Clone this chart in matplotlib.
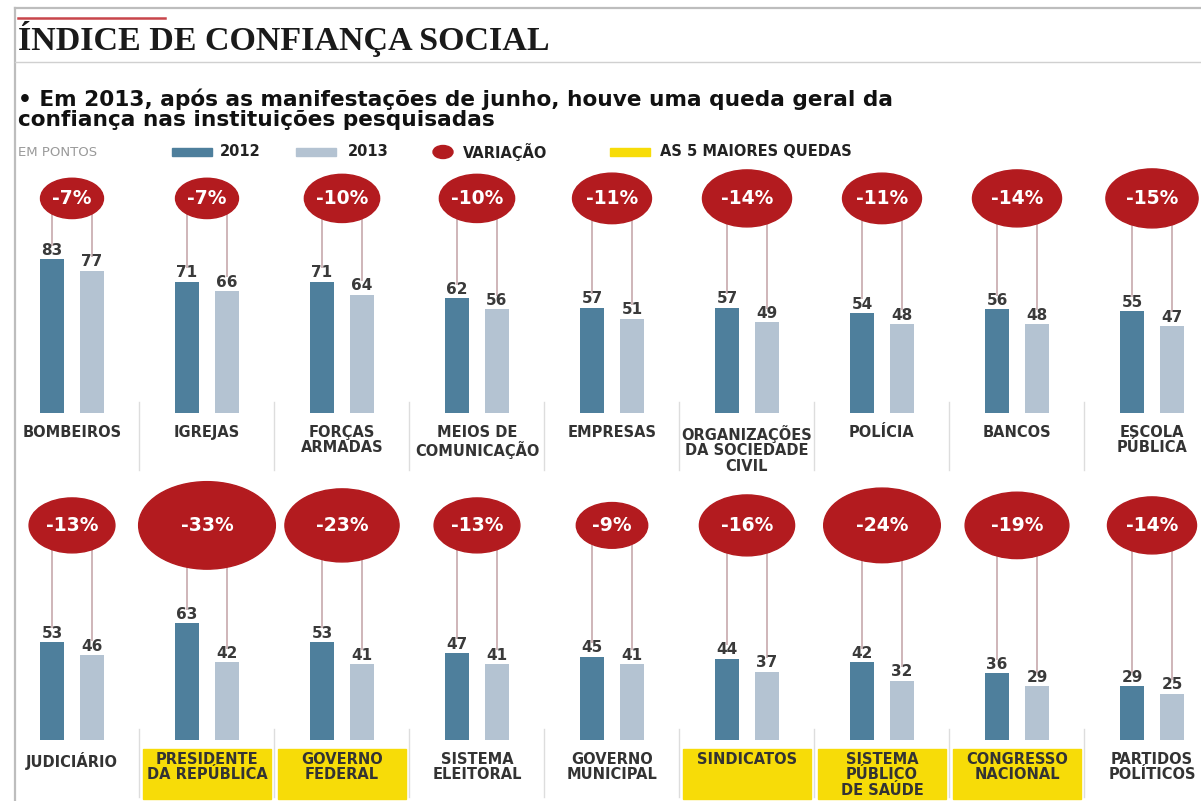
import numpy as np
import matplotlib.pyplot as plt
from matplotlib.patches import Ellipse, Rectangle

# Índice de confiança social - 2012 x 2013 (em pontos)

# linha de cima
cat_top = ['BOMBEIROS', 'IGREJAS', 'FORÇAS\nARMADAS', 'MEIOS DE\nCOMUNICAÇÃO', 'EMPRESAS',
           'ORGANIZAÇÕES\nDA SOCIEDADE\nCIVIL', 'POLÍCIA', 'BANCOS', 'ESCOLA\nPÚBLICA']
top_2012 = [83, 71, 71, 62, 57, 57, 54, 56, 55]
top_2013 = [77, 66, 64, 56, 51, 49, 48, 48, 47]
top_var = [-7, -7, -10, -10, -11, -14, -11, -14, -15]

# linha de baixo
cat_bot = ['JUDICIÁRIO', 'PRESIDENTE\nDA REPÚBLICA', 'GOVERNO\nFEDERAL', 'SISTEMA\nELEITORAL',
           'GOVERNO\nMUNICIPAL', 'SINDICATOS', 'SISTEMA\nPÚBLICO\nDE SAÚDE', 'CONGRESSO\nNACIONAL',
           'PARTIDOS\nPOLÍTICOS']
bot_2012 = [53, 63, 53, 47, 45, 44, 42, 36, 29]
bot_2013 = [46, 42, 41, 41, 41, 37, 32, 29, 25]
bot_var = [-13, -33, -23, -13, -9, -16, -24, -19, -14]

# cores
C12 = '#4e7f9c'
C13 = '#b4c3d2'
RED = '#b31b1f'
YEL = '#f7dc08'
LINE = '#cfb5b9'
TXT = '#333333'

W, H = 1201, 801
fig = plt.figure(figsize=(W / 100, H / 100), dpi=100)

# fundo em pixels para cabeçalho e legenda
bg = fig.add_axes([0, 0, 1, 1])
bg.set_xlim(0, W)
bg.set_ylim(H, 0)
bg.axis('off')

bg.plot([15, W], [8, 8], color='#bdbdbd', lw=1.6)
bg.plot([15, 15], [8, H], color='#bdbdbd', lw=1.6)
bg.plot([18, 165], [18, 18], color='#c8454b', lw=1.8)
bg.plot([15, W], [62, 62], color='#d0d0d0', lw=1.0)

bg.text(18, 50, 'ÍNDICE DE CONFIANÇA SOCIAL', family='Liberation Serif', fontsize=24.5,
        weight='bold', color='#1a1a1a', va='baseline', ha='left')
bg.text(18, 99, '• Em 2013, após as manifestações de junho, houve uma queda geral da',
        fontsize=15.6, weight='bold', color='#111111', va='center')
bg.text(18, 120, 'confiança nas instituições pesquisadas',
        fontsize=15.6, weight='bold', color='#111111', va='center')

# legenda
ly = 152
bg.text(18, ly, 'EM PONTOS', fontsize=9.5, color='#9a9a9a', va='center')
bg.add_patch(Rectangle((172, ly - 4), 40, 8, color=C12))
bg.text(220, ly, '2012', fontsize=10.5, weight='bold', color='#222222', va='center')
bg.add_patch(Rectangle((296, ly - 4), 40, 8, color=C13))
bg.text(348, ly, '2013', fontsize=10.5, weight='bold', color='#222222', va='center')
bg.add_patch(Ellipse((443, ly), 20, 13, color=RED))
bg.text(463, ly, 'VARIAÇÃO', fontsize=10.5, weight='bold', color='#222222', va='center')
bg.add_patch(Rectangle((610, ly - 4), 40, 8, color=YEL))
bg.text(660, ly, 'AS 5 MAIORES QUEDAS', fontsize=10.5, weight='bold', color='#222222', va='center')

# as 5 maiores quedas (entre todas as instituições)
all_var = top_var + bot_var
limite = sorted(all_var)[4]

XMIN, XMAX = -0.5, 8.363
AX_LEFT = 4.5
PX_X = (W - AX_LEFT) / (XMAX - XMIN)
PX_Y = 1.85
YMAX = 145
BUBBLE_Y = 116
DX = 0.148
BW = 0.18


def linha(base_px, cats, v12, v13, var):
    ax = fig.add_axes([AX_LEFT / W, (H - base_px) / H, (W - AX_LEFT) / W, YMAX * PX_Y / H])
    ax.set_xlim(XMIN, XMAX)
    ax.set_ylim(0, YMAX)
    ax.axis('off')
    x = np.arange(len(cats))
    ax.bar(x - DX, v12, BW, color=C12, zorder=2)
    ax.bar(x + DX, v13, BW, color=C13, zorder=2)
    for i in range(len(cats)):
        for xx, v in ((x[i] - DX, v12[i]), (x[i] + DX, v13[i])):
            ax.annotate(str(v), (xx, v), xytext=(0, 1), textcoords='offset points',
                        ha='center', va='bottom', fontsize=11, weight='bold', color='#3a3a3a')
            ax.plot([xx, xx], [v + 8, BUBBLE_Y], color=LINE, lw=1.4, zorder=1)
        # bolha proporcional à variação
        wpx = 23.8 * np.sqrt(abs(var[i]))
        hpx = 0.64 * wpx
        ax.add_patch(Ellipse((x[i], BUBBLE_Y), wpx / PX_X, hpx / PX_Y, color=RED,
                             zorder=3, clip_on=False))
        ax.text(x[i], BUBBLE_Y, f'{var[i]}%', ha='center', va='center', fontsize=13.5,
                weight='bold', color='white', zorder=4)
        if var[i] <= limite:
            ax.add_patch(Rectangle((x[i] - 0.475, -32), 0.95, 27, color=YEL,
                                   zorder=0, clip_on=False))
        ax.annotate(cats[i], (x[i], 0), xytext=(0, -8.5), textcoords='offset points',
                    ha='center', va='top', fontsize=10.5, weight='bold', color=TXT,
                    linespacing=1.05, annotation_clip=False)
        if i < len(cats) - 1:
            ax.plot([x[i] + 0.5] * 2, [6, -31], color='#dddddd', lw=1.0, clip_on=False)
    return ax


linha(413, cat_top, top_2012, top_2013, top_var)
linha(740, cat_bot, bot_2012, bot_2013, bot_var)

fig.savefig('out.png', dpi=100)
